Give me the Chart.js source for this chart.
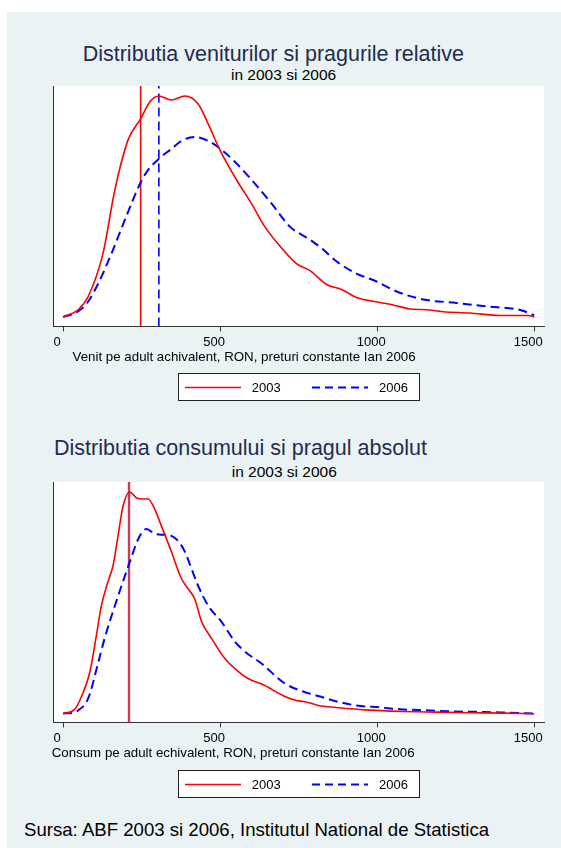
<!DOCTYPE html>
<html lang="ro">
<head>
<meta charset="UTF-8" />
<title>Distributia veniturilor si a consumului</title>
<script src="https://cdn.jsdelivr.net/npm/chart.js@4.4.1/dist/chart.umd.min.js"></script>
<style>
  body { margin: 0; width: 561px; height: 848px; position: relative; overflow: hidden; background: #fff;
         font-family: "Liberation Sans", Arial, sans-serif; }
  .panel { position: absolute; left: 7px; top: 12px; right: 0; bottom: 0; background: #eaf2f3; }
  .txt { position: absolute; white-space: nowrap; line-height: 1; color: #000; }
  .title { font-size: 21.5px; color: #1f2d50; }
  .sub { font-size: 15.5px; }
  .xtitle { font-size: 13.3px; }
  .foot { font-size: 18.6px; }
  canvas { position: absolute; left: 0; }
  .legend { position: absolute; left: 178px; width: 242px; height: 28px; }
  .legend span { position: absolute; top: 7.5px; font-size: 13px; line-height: 1; }
</style>
</head>
<body>
<div class="panel"></div>

<div class="txt title" style="left:82.7px; top:43.5px">Distributia veniturilor si pragurile relative</div>
<div class="txt sub" style="left:231px; top:67px">in 2003 si 2006</div>
<canvas id="chart1" width="561" height="273" style="top:80px"></canvas>
<div class="txt xtitle" style="left:72.6px; top:350.4px">Venit pe adult achivalent, RON, preturi constante Ian 2006</div>
<div class="legend" id="legend1" style="top:373px"></div>

<div class="txt title" style="left:54px; top:438.3px">Distributia consumului si pragul absolut</div>
<div class="txt sub" style="left:231.7px; top:463.6px">in 2003 si 2006</div>
<canvas id="chart2" width="561" height="273" style="top:476px"></canvas>
<div class="txt xtitle" style="left:51.7px; top:746.4px">Consum pe adult echivalent, RON, preturi constante Ian 2006</div>
<div class="legend" id="legend2" style="top:770px"></div>

<div class="txt foot" style="left:24px; top:821px">Sursa: ABF 2003 si 2006, Institutul National de Statistica</div>

<script>
  // densitati estimate (unitati arbitrare)
  const venitX2003 = [0, 48, 80, 127, 165, 207, 247, 276, 305, 345, 388, 430, 462, 499, 552, 600, 642, 700, 743, 786, 839, 887, 934, 1009, 1051, 1104, 1157, 1210, 1295, 1391, 1438, 1480, 1500];
  const venitY2003 = [9.4, 16.7, 30, 73, 137, 187, 208, 225, 231, 227, 231, 223, 203, 177, 147, 123, 100, 77, 63, 56, 42, 37, 29, 24, 21.5, 17.5, 16.7, 14.7, 13.4, 11, 11, 11, 9.5];
  const venitX2006 = [0, 48, 80, 112, 154, 197, 248, 271, 305, 345, 377, 419, 462, 505, 547, 600, 664, 722, 786, 828, 871, 934, 998, 1062, 1147, 1253, 1348, 1438, 1461, 1500];
  const venitY2006 = [9.4, 15, 25, 43, 73, 107, 145, 157, 168, 178, 186, 190, 186, 177, 165, 147, 123, 100, 87, 77, 65, 53, 45, 35, 27, 23.5, 20, 17.5, 16, 11];

  const consumX2003 = [0, 37, 64, 85, 106, 122, 143, 159, 175, 191, 212, 234, 255, 271, 287, 313, 345, 377, 398, 419, 441, 473, 515, 558, 589, 642, 706, 743, 764, 780, 812, 870, 976, 1083, 1189, 1295, 1401, 1500];
  const consumY2003 = [9, 13, 30, 50, 87, 117, 141, 157, 187, 217, 231, 225, 224, 224, 217, 197, 171, 144, 134, 124, 101, 84, 64, 51, 44, 37, 26, 22, 21, 20, 17, 15, 12.3, 11, 10.3, 9.7, 9.3, 8.7];
  const consumX2006 = [0, 30, 48, 80, 112, 133, 165, 197, 218, 234, 250, 266, 292, 324, 345, 366, 388, 409, 430, 462, 504, 547, 579, 632, 706, 764, 818, 871, 934, 1009, 1083, 1168, 1242, 1338, 1423, 1500];
  const consumY2006 = [9, 9.5, 12, 24, 60, 85, 117, 147, 166, 180, 190, 194, 189, 188, 187, 182, 171, 154, 137, 117, 101, 81, 71, 59, 39, 31, 26, 21, 17, 15, 13, 12, 11, 10.5, 9.7, 9];

  const pragRelativ = [247, 305];   // 2003, 2006
  const pragAbsolut = [210];
  const xTicks = [0, 500, 1000, 1500];
  const serii = ["2003", "2006"];

  const FONT = '"Liberation Sans", Arial, sans-serif';
  const RED = "#ff0000", BLUE = "#0000ff";
  const Y_MAX = 241;

  const pts = (xs, ys) => xs.map((x, i) => ({ x: x, y: ys[i] }));
  const vline = (x) => [{ x: x, y: 0 }, { x: x, y: Y_MAX }];

  const plotBg = {
    id: "plotBg",
    beforeDraw(chart) {
      const { ctx, chartArea: a } = chart;
      ctx.save();
      ctx.fillStyle = "#fff";
      ctx.fillRect(a.left, a.top, a.right - a.left, a.bottom - a.top);
      ctx.restore();
    },
  };

  function curve(label, data, color, dashed) {
    return {
      label: label,
      data: data,
      borderColor: color,
      borderWidth: dashed ? 2 : 1.6,
      borderDash: dashed ? [9, 5] : [],
      pointRadius: 0,
      cubicInterpolationMode: "monotone",
      fill: false,
    };
  }

  function options() {
    return {
      responsive: false,
      animation: false,
      layout: { padding: { left: 53, right: 17, top: 6, bottom: 0 } },
      plugins: { legend: { display: false }, tooltip: { enabled: false } },
      scales: {
        x: {
          type: "linear",
          min: -32,
          max: 1531,
          afterBuildTicks: (s) => { s.ticks = xTicks.map((v) => ({ value: v })); },
          ticks: {
            font: { family: FONT, size: 13 }, color: "#000", labelOffset: -6, padding: 3,
            maxRotation: 0, autoSkip: false, callback: (v) => String(v),
          },
          grid: { drawOnChartArea: false, drawTicks: true, tickLength: 5, color: "#333" },
          border: { display: true, color: "#333", width: 1 },
        },
        y: {
          min: 0,
          max: Y_MAX,
          ticks: { display: false },
          grid: { display: false, drawTicks: false },
          border: { display: true, color: "#333", width: 1 },
        },
      },
    };
  }

  new Chart(document.getElementById("chart1"), {
    type: "line",
    data: {
      datasets: [
        curve(serii[0], pts(venitX2003, venitY2003), RED, false),
        curve(serii[1], pts(venitX2006, venitY2006), BLUE, true),
        { label: "prag 2003", data: vline(pragRelativ[0]), borderColor: RED, borderWidth: 1.6, pointRadius: 0 },
        { label: "prag 2006", data: vline(pragRelativ[1]), borderColor: BLUE, borderWidth: 1.6, borderDash: [9, 5], pointRadius: 0 },
      ],
    },
    options: options(),
    plugins: [plotBg],
  });

  new Chart(document.getElementById("chart2"), {
    type: "line",
    data: {
      datasets: [
        curve(serii[0], pts(consumX2003, consumY2003), RED, false),
        curve(serii[1], pts(consumX2006, consumY2006), BLUE, true),
        { label: "prag absolut", data: vline(pragAbsolut[0]), borderColor: "#c83c5a", borderWidth: 2.4, pointRadius: 0 },
      ],
    },
    options: options(),
    plugins: [plotBg],
  });

  // legenda in stil Stata: chenar, linie de proba, eticheta
  function legend(id) {
    const el = document.getElementById(id);
    el.innerHTML =
      '<svg width="242" height="28" style="position:absolute;left:0;top:0">' +
      '<rect x="0.5" y="0.5" width="241" height="27" fill="#fff" stroke="#222" stroke-width="1"/>' +
      '<line x1="7" y1="14.5" x2="63" y2="14.5" stroke="' + RED + '" stroke-width="1.6"/>' +
      '<line x1="134" y1="14.5" x2="190" y2="14.5" stroke="' + BLUE + '" stroke-width="1.8" stroke-dasharray="8 5"/>' +
      "</svg>" +
      '<span style="left:73.7px">' + serii[0] + "</span>" +
      '<span style="left:201px">' + serii[1] + "</span>";
  }
  legend("legend1");
  legend("legend2");
</script>
</body>
</html>
